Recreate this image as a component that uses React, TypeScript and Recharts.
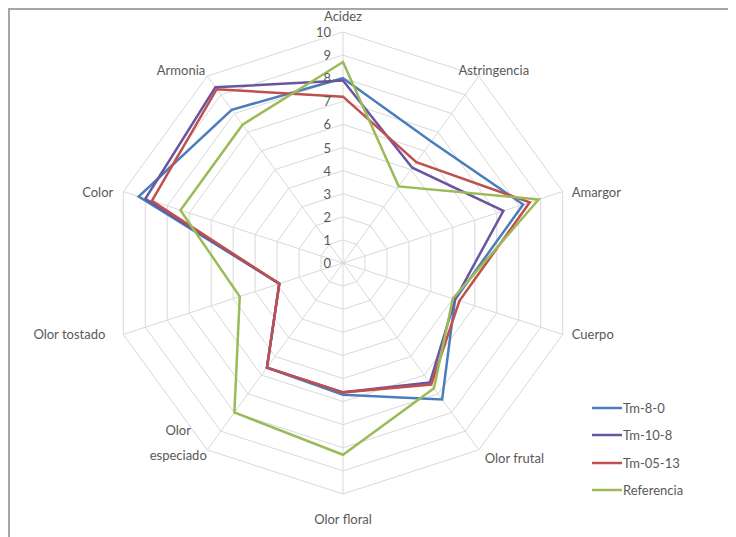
import { RadarChart, PolarGrid, PolarAngleAxis, PolarRadiusAxis, Radar, Legend } from "recharts"

const AXES = [
  "Acidez", "Astringencia", "Amargor", "Cuerpo", "Olor frutal",
  "Olor floral", "Olor especiado", "Olor tostado", "Color", "Armonia",
]

const TM_8_0 = [8.0, 6.5, 8.2, 5.1, 7.3, 5.7, 5.6, 2.9, 9.3, 8.2]
const TM_10_8 = [7.9, 5.1, 7.3, 5.1, 6.4, 5.6, 5.6, 2.9, 9.0, 9.4]
const TM_05_13 = [7.2, 5.4, 8.5, 5.3, 6.5, 5.6, 5.6, 2.9, 8.7, 9.3]
const REFERENCIA = [8.7, 4.1, 8.9, 5.0, 6.7, 8.3, 8.0, 4.7, 7.4, 7.4]

const RADIUS_TICKS = [0, 1, 2, 3, 4, 5, 6, 7, 8, 9, 10]

const SERIES = [
  { key: "tm80", name: "Tm-8-0", color: "#4a7ebb" },
  { key: "tm108", name: "Tm-10-8", color: "#6a55a0" },
  { key: "tm0513", name: "Tm-05-13", color: "#c0504d" },
  { key: "ref", name: "Referencia", color: "#9bbb59" },
]

const W = 728
const H = 529
const CX = 335
const CY = 255
const R = 231
const FONT = "Lato, 'Liberation Sans', sans-serif"
const TEXT = "#595959"

const data = AXES.map((attr, i) => ({
  attr,
  tm80: TM_8_0[i],
  tm108: TM_10_8[i],
  tm0513: TM_05_13[i],
  ref: REFERENCIA[i],
}))

// category labels sit outside the outer ring, placed by direction of the spoke
function AngleTick(props: any) {
  const label: string = props.payload.value
  const i = AXES.indexOf(label)
  const a = ((90 - 36 * i) * Math.PI) / 180
  const cos = Math.cos(a)
  const sin = Math.sin(a)
  const px = CX + R * cos
  const py = CY - R * sin
  const common = { fontSize: 13, fill: TEXT, fontFamily: FONT, dominantBaseline: "central" as const }

  if (Math.abs(cos) < 0.01) {
    const y = sin > 0 ? py - 16 : py + 25
    return <text x={px} y={y} textAnchor="middle" {...common}>{label}</text>
  }
  if (Math.abs(cos) > 0.9) {
    if (cos > 0) return <text x={px + 9} y={py} textAnchor="start" {...common}>{label}</text>
    const dx = sin > 0 ? -10 : -18
    return <text x={px + dx} y={py} textAnchor="end" {...common}>{label}</text>
  }
  if (sin > 0) {
    return cos > 0
      ? <text x={px + 15} y={py - 6} textAnchor="middle" {...common}>{label}</text>
      : <text x={px - 2} y={py - 6} textAnchor="end" {...common}>{label}</text>
  }
  if (cos > 0) {
    return <text x={px + 6} y={py + 8} textAnchor="start" {...common}>{label}</text>
  }
  const words = label.split(" ")
  return (
    <text x={px - 29} y={py - 20} textAnchor="middle" {...common}>
      {words.map((w, k) => (
        <tspan key={k} x={px - 29} dy={k === 0 ? 0 : 25}>{w}</tspan>
      ))}
    </text>
  )
}

function RadiusTick(props: any) {
  const { x, y, payload } = props
  return (
    <text x={x - 12} y={y} textAnchor="end" dominantBaseline="central"
      fontSize={13} fill={TEXT} fontFamily={FONT}>
      {payload.value}
    </text>
  )
}

function LegendBox() {
  return (
    <div style={{ fontFamily: FONT, fontSize: 13, color: TEXT }}>
      {SERIES.map((s) => (
        <div key={s.key} style={{ display: "flex", alignItems: "center", height: 27.5 }}>
          <svg width={30} height={6} style={{ marginRight: 1 }}>
            <line x1={0} y1={3} x2={30} y2={3} stroke={s.color} strokeWidth={2.5} />
          </svg>
          <span>{s.name}</span>
        </div>
      ))}
    </div>
  )
}

export default function App() {
  return (
    <div style={{ position: "relative", width: W, height: H, background: "#fff" }}>
      <RadarChart width={W} height={H} data={data} cx={CX} cy={CY} outerRadius={R}
        margin={{ top: 0, right: 0, bottom: 0, left: 0 }}>
        <PolarGrid gridType="polygon" stroke="#d9d9d9" strokeWidth={1} />
        <PolarAngleAxis dataKey="attr" tick={<AngleTick />} tickLine={false} axisLine={false} />
        <PolarRadiusAxis angle={90} domain={[0, 10]} ticks={RADIUS_TICKS} tickCount={11}
          tick={<RadiusTick />} axisLine={false} tickLine={false} />
        {SERIES.map((s) => (
          <Radar key={s.key} dataKey={s.key} name={s.name} stroke={s.color} strokeWidth={2.5}
            fill="none" fillOpacity={0} dot={false} isAnimationActive={false} />
        ))}
        <Legend content={<LegendBox />} layout="vertical"
          wrapperStyle={{ position: "absolute", left: 584, top: 386, width: 130 }} />
      </RadarChart>
      {/* chart area frame, only top and left edges fall inside the view */}
      <div style={{
        position: "absolute", left: 0, top: 0, width: W, height: H, pointerEvents: "none",
        borderTop: "2px solid #a6a6a6", borderLeft: "2px solid #a6a6a6", boxSizing: "border-box",
      }} />
    </div>
  )
}
